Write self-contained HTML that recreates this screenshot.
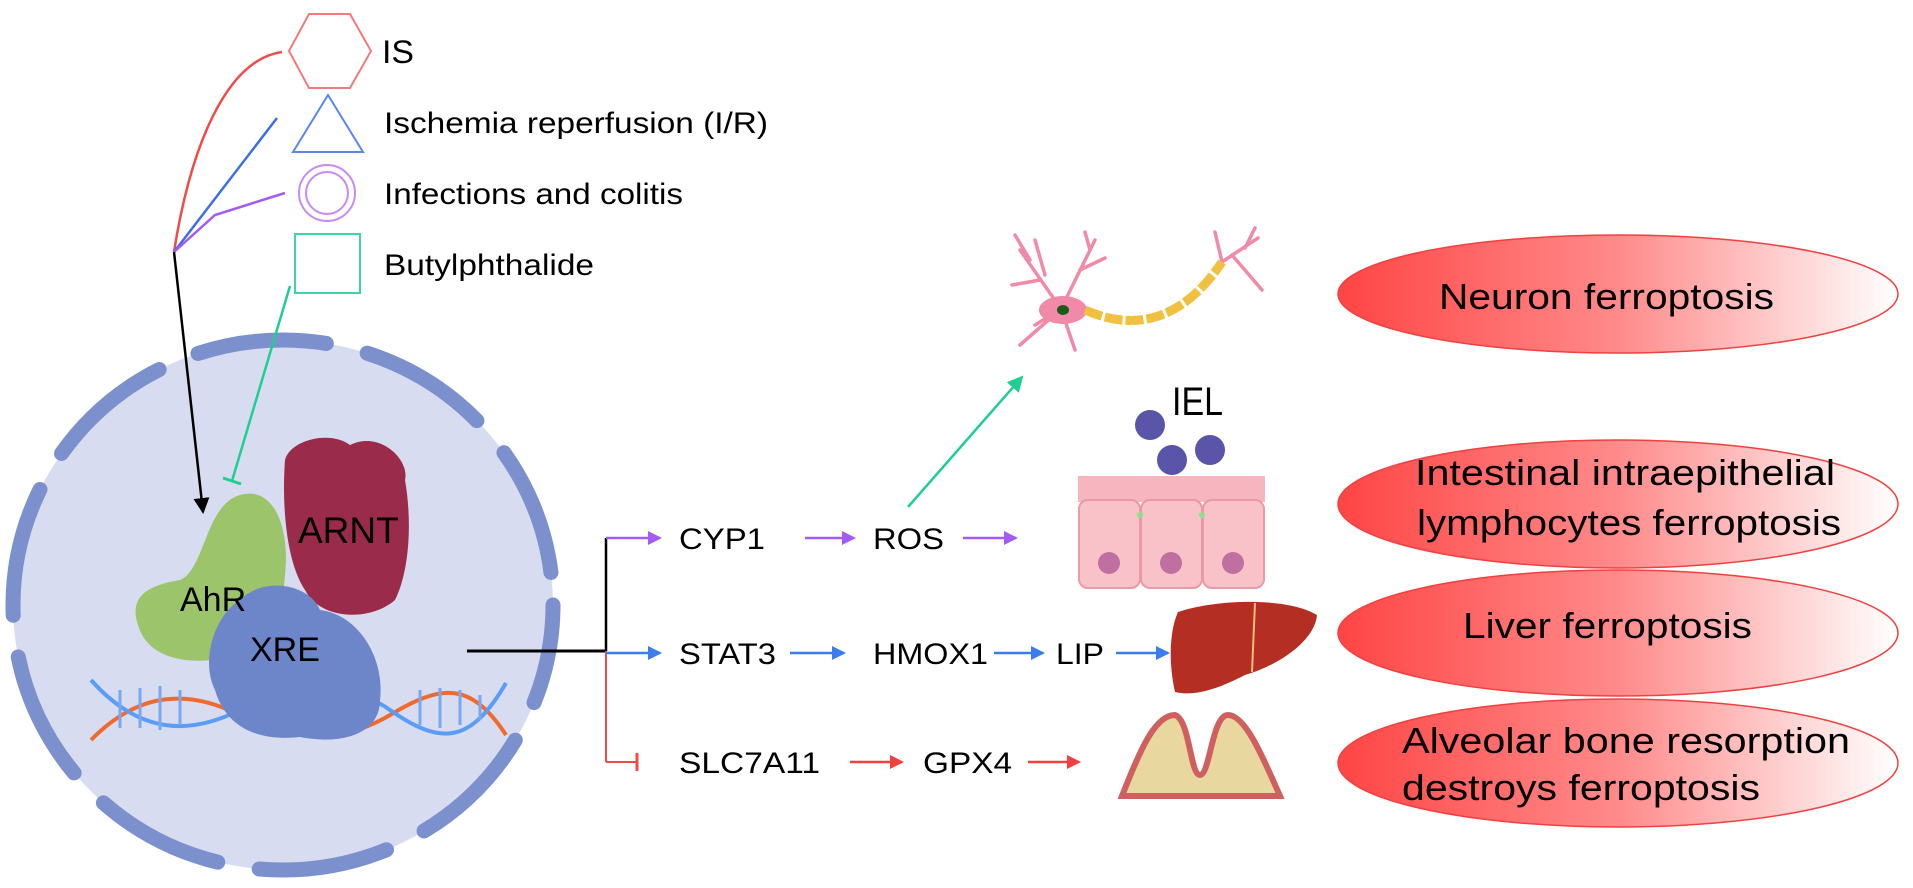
<!DOCTYPE html>
<html><head><meta charset="utf-8"><style>
html,body{margin:0;padding:0;background:#fff}
svg{display:block}
text{font-family:"Liberation Sans",sans-serif}
</style></head><body>
<svg width="1913" height="888" viewBox="0 0 1913 888" xmlns="http://www.w3.org/2000/svg">
<defs>
<linearGradient id="rg" x1="0" x2="1" y1="0" y2="0">
<stop offset="0" stop-color="#ff4545"/><stop offset="0.5" stop-color="#ff8a8a"/><stop offset="1" stop-color="#ffffff"/>
</linearGradient>
<marker id="ap" markerWidth="14" markerHeight="14" refX="12" refY="7" orient="auto" markerUnits="userSpaceOnUse"><path d="M0,0 L14,7 L0,14z" fill="#a35cf2"/></marker>
<marker id="ab" markerWidth="14" markerHeight="14" refX="12" refY="7" orient="auto" markerUnits="userSpaceOnUse"><path d="M0,0 L14,7 L0,14z" fill="#3b7cf0"/></marker>
<marker id="ar" markerWidth="14" markerHeight="14" refX="12" refY="7" orient="auto" markerUnits="userSpaceOnUse"><path d="M0,0 L14,7 L0,14z" fill="#f04040"/></marker>
<marker id="ag" markerWidth="16" markerHeight="16" refX="14" refY="8" orient="auto" markerUnits="userSpaceOnUse"><path d="M0,0 L16,8 L0,16z" fill="#1fcf8f"/></marker>
<marker id="ak" markerWidth="16" markerHeight="16" refX="14" refY="8" orient="auto" markerUnits="userSpaceOnUse"><path d="M0,0 L16,8 L0,16z" fill="#000"/></marker>
</defs>

<!-- legend -->
<polygon points="309,14 350,14 371,51 350,88 309,88 289,51" fill="none" stroke="#f47a7a" stroke-width="2"/>
<text x="382" y="63" font-size="32" textLength="32" lengthAdjust="spacingAndGlyphs">IS</text>
<polygon points="328,95 363,152 293,152" fill="none" stroke="#5b88e8" stroke-width="2"/>
<text x="384" y="133" font-size="30" textLength="384" lengthAdjust="spacingAndGlyphs">Ischemia reperfusion (I/R)</text>
<circle cx="327" cy="193" r="28" fill="none" stroke="#c98af0" stroke-width="2"/>
<circle cx="327" cy="193" r="21" fill="none" stroke="#c98af0" stroke-width="2"/>
<text x="384" y="204" font-size="30" textLength="299" lengthAdjust="spacingAndGlyphs">Infections and colitis</text>
<rect x="295" y="234" width="65" height="59" fill="none" stroke="#3dd6a0" stroke-width="2"/>
<text x="384" y="275" font-size="30" textLength="210" lengthAdjust="spacingAndGlyphs">Butylphthalide</text>

<path d="M174,252 C190,150 225,60 282,52" fill="none" stroke="#f04a4a" stroke-width="2.5"/>
<path d="M174,252 L277,118" fill="none" stroke="#3b6ee8" stroke-width="2.5"/>
<path d="M174,252 L215,215 L285,193" fill="none" stroke="#a35cf2" stroke-width="2.5"/>

<!-- cell -->
<ellipse cx="283" cy="605" rx="270" ry="265" fill="#d7dcf0"/>
<ellipse cx="283" cy="605" rx="270" ry="265" fill="none" stroke="#7b90cc" stroke-width="15" stroke-linecap="round" stroke-dasharray="130 42" stroke-dashoffset="30"/>

<line x1="174" y1="252" x2="203" y2="512" stroke="#000" stroke-width="2.5" marker-end="url(#ak)"/>
<line x1="290" y1="286" x2="232" y2="481" stroke="#1fcf8f" stroke-width="2.5"/>
<line x1="223" y1="478" x2="241" y2="484" stroke="#1fcf8f" stroke-width="3"/>

<!-- DNA -->
<g fill="none" stroke-width="4">
<path d="M91,740 C140,690 190,690 240,715 S340,745 390,715 S470,680 506,735" stroke="#f06a30"/>
<path d="M91,680 C140,735 190,735 240,710 S340,675 390,710 S470,745 506,683" stroke="#5b9cf5"/>
</g>
<g stroke="#7aa8f0" stroke-width="3">
<line x1="120" y1="690" x2="120" y2="728"/><line x1="140" y1="688" x2="140" y2="728"/><line x1="160" y1="686" x2="160" y2="730"/><line x1="180" y1="690" x2="180" y2="725"/><line x1="420" y1="690" x2="420" y2="725"/><line x1="440" y1="688" x2="440" y2="728"/><line x1="460" y1="690" x2="460" y2="725"/><line x1="480" y1="695" x2="480" y2="720"/>
</g>

<!-- proteins -->
<path d="M285,460 C290,440 330,430 350,445 C380,430 410,460 405,480 C412,520 410,570 395,600 C370,622 320,620 305,590 C285,560 282,500 285,460z" fill="#9b2b4a"/>
<path d="M240,495 C275,485 290,530 285,575 C283,615 260,645 225,658 C190,665 148,660 138,625 C128,595 150,585 180,580 C205,570 205,505 240,495z" fill="#9cc46a"/>
<path d="M240,600 C265,575 310,585 320,610 C360,615 385,660 380,700 C380,735 340,745 300,737 C255,742 225,725 215,690 C200,660 215,615 240,600z" fill="#6d86c9"/>
<text x="298" y="543" font-size="37">ARNT</text>
<text x="180" y="611" font-size="34">AhR</text>
<text x="250" y="661" font-size="34">XRE</text>

<!-- branch -->
<line x1="467" y1="651" x2="606" y2="651" stroke="#000" stroke-width="3"/>
<line x1="606" y1="538" x2="606" y2="651" stroke="#000" stroke-width="2.5"/>
<line x1="606" y1="651" x2="606" y2="762" stroke="#f04a4a" stroke-width="2"/>
<line x1="606" y1="538" x2="660" y2="538" stroke="#a35cf2" stroke-width="2.5" marker-end="url(#ap)"/>
<line x1="606" y1="653" x2="660" y2="653" stroke="#3b7cf0" stroke-width="2.5" marker-end="url(#ab)"/>
<line x1="606" y1="762" x2="637" y2="762" stroke="#f04a4a" stroke-width="2"/>
<line x1="637" y1="753" x2="637" y2="771" stroke="#f04a4a" stroke-width="3"/>

<g font-size="30" lengthAdjust="spacingAndGlyphs">
<text x="679" y="549" textLength="86" lengthAdjust="spacingAndGlyphs">CYP1</text>
<text x="873" y="549" textLength="71" lengthAdjust="spacingAndGlyphs">ROS</text>
<text x="679" y="664" textLength="97" lengthAdjust="spacingAndGlyphs">STAT3</text>
<text x="873" y="664" textLength="115" lengthAdjust="spacingAndGlyphs">HMOX1</text>
<text x="1056" y="664" textLength="48" lengthAdjust="spacingAndGlyphs">LIP</text>
<text x="679" y="773" textLength="141" lengthAdjust="spacingAndGlyphs">SLC7A11</text>
<text x="923" y="773" textLength="89" lengthAdjust="spacingAndGlyphs">GPX4</text>
</g>
<line x1="805" y1="538" x2="854" y2="538" stroke="#a35cf2" stroke-width="2.5" marker-end="url(#ap)"/>
<line x1="963" y1="538" x2="1016" y2="538" stroke="#a35cf2" stroke-width="2.5" marker-end="url(#ap)"/>
<line x1="790" y1="653" x2="844" y2="653" stroke="#3b7cf0" stroke-width="2.5" marker-end="url(#ab)"/>
<line x1="994" y1="653" x2="1043" y2="653" stroke="#3b7cf0" stroke-width="2.5" marker-end="url(#ab)"/>
<line x1="1116" y1="653" x2="1168" y2="653" stroke="#3b7cf0" stroke-width="2.5" marker-end="url(#ab)"/>
<line x1="850" y1="762" x2="902" y2="762" stroke="#f04040" stroke-width="2.5" marker-end="url(#ar)"/>
<line x1="1028" y1="762" x2="1079" y2="762" stroke="#f04040" stroke-width="2.5" marker-end="url(#ar)"/>
<line x1="908" y1="507" x2="1022" y2="377" stroke="#1fcf8f" stroke-width="2.5" marker-end="url(#ag)"/>

<!-- neuron -->
<g stroke="#f08aa8" stroke-width="3.5" fill="none" stroke-linecap="round">
<path d="M1061,309 L1020,250 M1040,280 L1012,285 M1045,275 L1035,240 M1061,309 L1095,240 M1080,270 L1105,258 M1061,309 L1020,345 M1061,309 L1075,350 M1061,309 L1035,325 M1030,260 L1015,235 M1090,250 L1085,232"/>
<path d="M1222,262 L1258,238 M1222,262 L1215,232 M1232,255 L1262,290 M1245,248 L1255,228"/>
</g>
<ellipse cx="1063" cy="310" rx="24" ry="14" fill="#f08aa8"/>
<ellipse cx="1063" cy="310" rx="6" ry="5" fill="#1a5a1a"/>
<path d="M1085,310 C1130,330 1180,325 1222,262" fill="none" stroke="#f2c040" stroke-width="9" stroke-dasharray="18 3"/>

<!-- IEL -->
<text x="1172" y="415" font-size="40" textLength="51" lengthAdjust="spacingAndGlyphs">IEL</text>
<circle cx="1150" cy="425" r="15" fill="#5a55a8"/>
<circle cx="1172" cy="460" r="15" fill="#5a55a8"/>
<circle cx="1210" cy="450" r="15" fill="#5a55a8"/>
<rect x="1078" y="476" width="187" height="26" fill="#f7b5c0"/>
<g fill="#f8c2c8" stroke="#e89aa5" stroke-width="2">
<rect x="1079" y="500" width="61" height="88" rx="9"/>
<rect x="1141" y="500" width="61" height="88" rx="9"/>
<rect x="1203" y="500" width="61" height="88" rx="9"/>
</g>
<g fill="#8de08d"><circle cx="1140" cy="515" r="3"/><circle cx="1202" cy="515" r="3"/></g>
<g fill="#c070a0"><circle cx="1109" cy="563" r="11"/><circle cx="1171" cy="563" r="11"/><circle cx="1233" cy="563" r="11"/></g>

<!-- liver -->
<path d="M1178,612 C1220,598 1290,598 1317,615 C1315,640 1280,665 1245,675 C1220,688 1195,697 1175,692 C1168,660 1170,630 1178,612z" fill="#b52e24"/>
<line x1="1255" y1="603" x2="1252" y2="672" stroke="#f0c080" stroke-width="2"/>

<!-- gum -->
<path d="M1122,796 C1140,750 1155,715 1175,715 C1190,720 1190,775 1200,775 C1210,775 1212,715 1228,715 C1245,715 1262,755 1280,796z" fill="#e8d8a0" stroke="#d06060" stroke-width="6"/>

<!-- ellipses -->
<g stroke="#f04040" stroke-width="1.5" fill="url(#rg)">
<ellipse cx="1618" cy="294" rx="280" ry="59"/>
<ellipse cx="1618" cy="504" rx="280" ry="64"/>
<ellipse cx="1618" cy="633" rx="280" ry="63"/>
<ellipse cx="1618" cy="763" rx="280" ry="64"/>
</g>
<g font-size="36">
<text x="1439" y="309" textLength="335" lengthAdjust="spacingAndGlyphs">Neuron ferroptosis</text>
<text x="1415" y="485" textLength="420" lengthAdjust="spacingAndGlyphs">Intestinal intraepithelial</text>
<text x="1417" y="535" textLength="424" lengthAdjust="spacingAndGlyphs">lymphocytes ferroptosis</text>
<text x="1463" y="638" textLength="289" lengthAdjust="spacingAndGlyphs">Liver ferroptosis</text>
<text x="1402" y="753" textLength="448" lengthAdjust="spacingAndGlyphs">Alveolar bone resorption</text>
<text x="1402" y="800" textLength="358" lengthAdjust="spacingAndGlyphs">destroys ferroptosis</text>
</g>
</svg>
</body></html>
